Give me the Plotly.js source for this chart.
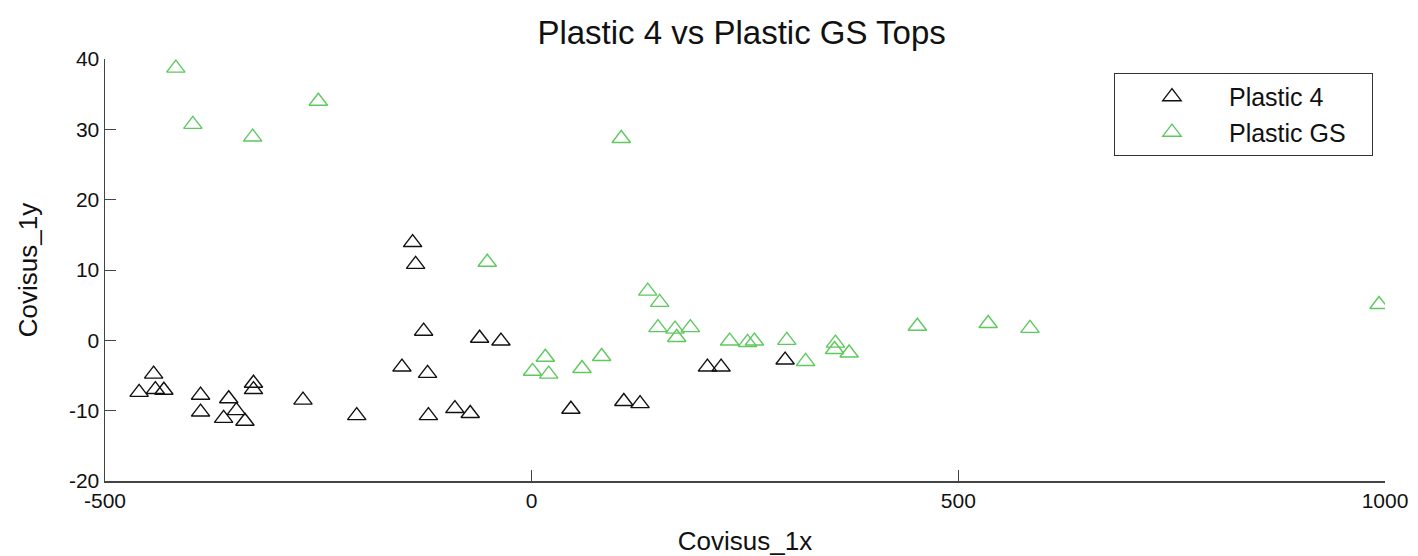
<!DOCTYPE html>
<html>
<head>
<meta charset="utf-8">
<script src="https://cdn.plot.ly/plotly-3.0.1.min.js"></script>
<style>html,body{margin:0;padding:0;background:#fff;}#chart{width:1418px;height:556px;}</style>
</head>
<body>
<div id="chart"></div>
<script>
// Plastic 4 (black)
const plastic4X = [-139.5, -136, -126.6, -61, -36, -152, -122, -443, -460, -441, -431, -388, -388, -355, -361, -346, -336, -326, -326, -268, -205, -121, -90, -72, 46, 108, 127, 206, 222, 297];
const plastic4Y = [13.9, 10.8, 1.3, 0.3, -0.1, -3.8, -4.7, -4.8, -7.4, -7.0, -7.1, -7.8, -10.2, -8.3, -11.1, -10.0, -11.5, -6.1, -7.0, -8.5, -10.7, -10.7, -9.7, -10.4, -9.8, -8.7, -9.0, -3.8, -3.8, -2.8];
// Plastic GS (green)
const plasticGSX = [-417, -397, -327, -250, 105, -52, 136, 150, 148, 168, 170, 186, 232, 253, 261, 299, 321, 356, 355, 372, 452, 535, 584, 993, 1, 16, 20, 59, 82];
const plasticGSY = [38.7, 30.7, 28.9, 34.0, 28.7, 11.1, 7.0, 5.4, 1.8, 1.6, 0.4, 1.8, -0.1, -0.3, -0.1, 0, -3.0, -0.4, -1.3, -1.8, 2.0, 2.4, 1.7, 5.1, -4.4, -2.4, -4.8, -4.0, -2.3];
const seriesNames = ["Plastic 4", "Plastic GS"];
const xTicks = [-500, 0, 500, 1000];
const yTicks = [-20, -10, 0, 10, 20, 30, 40];

const font = "Liberation Sans, Arial, Helvetica, sans-serif";
const pad = s => s + "&nbsp;&nbsp;&nbsp;";
const traces = [
  {x: plastic4X, y: plastic4Y, name: pad(seriesNames[0]), mode: "markers", type: "scatter",
   marker: {symbol: "triangle-up-open", size: 16, color: "#111", line: {width: 1.4}}},
  {x: plasticGSX, y: plasticGSY, name: pad(seriesNames[1]), mode: "markers", type: "scatter",
   marker: {symbol: "triangle-up-open", size: 16, color: "rgb(95,200,95)", line: {width: 1.4}}}
];
const axisCommon = {
  showgrid: false, zeroline: false, showline: true, linecolor: "#444", linewidth: 1.5,
  ticks: "inside", ticklen: 11, tickwidth: 1, tickcolor: "#444",
  tickfont: {family: font, size: 21, color: "#111"}, mirror: false
};
const layout = {
  width: 1418, height: 556,
  margin: {l: 105, r: 33, t: 59, b: 75},
  paper_bgcolor: "#fff", plot_bgcolor: "#fff",
  title: {text: "Plastic 4 vs Plastic GS Tops", font: {family: font, size: 33, color: "#111"},
          x: 0.523, xanchor: "center", y: 0.942, yanchor: "middle"},
  xaxis: Object.assign({}, axisCommon, {range: [-500, 1000], tickvals: xTicks, ticktext: xTicks.map(String),
          title: {text: "Covisus_1x", font: {family: font, size: 26, color: "#111"}, standoff: 21}}),
  yaxis: Object.assign({}, axisCommon, {range: [-20, 40], tickvals: yTicks, ticktext: yTicks.map(String),
          title: {text: "Covisus_1y", font: {family: font, size: 26, color: "#111"}, standoff: 24}}),
  showlegend: true,
  legend: {x: 0.9906, xanchor: "right", y: 0.967, yanchor: "top", bgcolor: "#fff",
           bordercolor: "#333", borderwidth: 1, font: {family: font, size: 25, color: "#111"},
           itemwidth: 104}
};
Plotly.newPlot("chart", traces, layout, {displayModeBar: false, staticPlot: true});
</script>
</body>
</html>
